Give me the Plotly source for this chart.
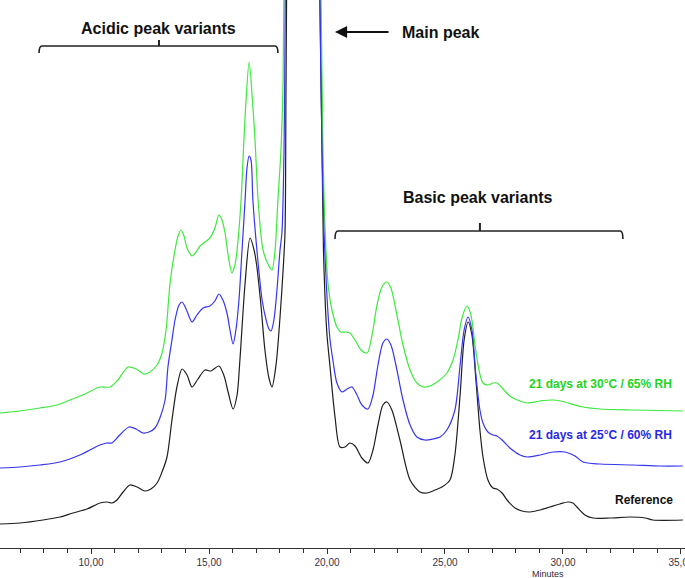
import plotly.graph_objects as go

# Retention time (minutes) and detector signal (mAU, offset traces as drawn)
ref_t = [6.14, 6.99, 7.97, 8.69, 9.24, 9.83, 10.38, 10.68, 10.89, 11.10, 11.36, 11.65, 11.95, 12.29, 12.54,
         12.80, 13.01, 13.22, 13.43, 13.64, 13.86, 14.07, 14.28, 14.53, 14.83, 15.08, 15.42, 15.64, 15.81,
         16.02, 16.19, 16.31, 16.53, 16.74, 16.91, 17.03, 17.20, 17.37, 17.54, 17.67, 17.84, 18.01, 18.14,
         18.22, 18.26, 18.30, 18.60, 18.98, 19.36, 19.60, 19.70, 19.79, 19.85, 19.92, 20.00, 20.13, 20.34,
         20.55, 20.76, 20.97, 21.19, 21.48, 21.74, 21.95, 22.16, 22.37, 22.54, 22.75, 23.09, 23.52, 23.94,
         24.24, 24.58, 24.87, 25.21, 25.42, 25.64, 25.81, 25.98, 26.14, 26.31, 26.48, 26.61, 26.82, 27.03,
         27.20, 27.42, 27.63, 27.97, 28.26, 28.60, 29.03, 29.45, 29.87, 30.21, 30.42, 30.59, 30.93, 31.27,
         31.99, 32.84, 33.48, 33.81, 35.08]
ref_v = [24, 25, 28, 31, 35, 39, 45, 46, 45, 48, 56, 63, 61, 57, 59,
         65, 76, 91, 128, 161, 179, 173, 161, 169, 178, 177, 182, 172, 156,
         139, 153, 188, 265, 310, 298, 281, 243, 198, 170, 161, 183, 231, 278,
         315, 448, 598, 1600, 2400, 1500, 800, 548, 398, 298, 248, 213, 181, 131,
         101, 101, 105, 102, 90, 85, 98, 123, 143, 146, 138, 108, 68, 56,
         55, 58, 61, 68, 93, 153, 208, 226, 213, 168, 118, 91, 68, 60,
         59, 55, 48, 40, 37, 36, 38, 41, 44, 46, 45, 41, 33, 30,
         30, 31, 30, 28, 28]

d25_t = [6.14, 6.99, 7.84, 8.69, 9.53, 10.38, 10.68, 10.89, 11.14, 11.61, 11.91, 12.20, 12.46, 12.71,
         12.92, 13.14, 13.26, 13.43, 13.56, 13.73, 13.86, 14.03, 14.28, 14.49, 14.75, 15.04, 15.25, 15.42,
         15.59, 15.76, 15.89, 16.02, 16.14, 16.27, 16.40, 16.53, 16.61, 16.70, 16.78, 16.86, 17.03, 17.25,
         17.42, 17.54, 17.63, 17.75, 17.88, 18.01, 18.09, 18.18, 18.22, 18.26, 18.55, 18.98, 19.36, 19.60,
         19.70, 19.79, 19.87, 20.00, 20.13, 20.25, 20.42, 20.64, 20.85, 21.06, 21.27, 21.48, 21.74, 21.95,
         22.16, 22.37, 22.54, 22.71, 22.92, 23.22, 23.52, 23.81, 24.15, 24.49, 24.79, 25.08, 25.42, 25.64,
         25.81, 25.98, 26.14, 26.31, 26.48, 26.61, 26.82, 27.03, 27.20, 27.42, 27.75, 28.18, 28.48, 29.03,
         29.58, 30.09, 30.51, 30.85, 31.57, 32.97, 34.11, 35.08]
d25_v = [80, 81, 83, 86, 93, 103, 105, 105, 111, 121, 119, 115, 116, 120,
         130, 148, 181, 208, 228, 243, 246, 239, 226, 233, 240, 242, 247, 254,
         248, 235, 218, 204, 218, 248, 298, 348, 380, 392, 388, 348, 298, 248,
         228, 219, 217, 228, 258, 298, 315, 398, 508, 648, 1600, 2400, 1500, 800,
         548, 398, 318, 251, 208, 188, 165, 156, 159, 161, 153, 143, 139, 153,
         183, 205, 209, 203, 183, 148, 123, 111, 108, 109, 111, 118, 138, 183,
         218, 231, 218, 173, 138, 125, 116, 113, 112, 108, 100, 93, 91, 93,
         96, 96, 92, 86, 84, 83, 82, 82]

d30_t = [6.14, 6.99, 7.84, 8.56, 9.11, 9.75, 10.38, 10.81, 11.14, 11.57, 11.91, 12.25, 12.50, 12.80,
         13.01, 13.18, 13.35, 13.56, 13.69, 13.81, 13.94, 14.07, 14.28, 14.45, 14.62, 14.83, 15.04, 15.25,
         15.42, 15.55, 15.68, 15.81, 15.97, 16.10, 16.19, 16.36, 16.48, 16.57, 16.70, 16.84, 16.95, 17.08,
         17.29, 17.54, 17.67, 17.80, 17.92, 18.05, 18.14, 18.18, 18.50, 18.98, 19.38, 19.62, 19.75, 19.83,
         19.92, 20.04, 20.21, 20.42, 20.59, 20.81, 20.97, 21.19, 21.44, 21.70, 21.91, 22.12, 22.33, 22.54,
         22.71, 22.92, 23.22, 23.52, 23.81, 24.07, 24.36, 24.66, 25.08, 25.34, 25.55, 25.72, 25.93, 26.10,
         26.27, 26.44, 26.61, 26.82, 27.03, 27.20, 27.42, 27.75, 28.18, 28.48, 29.03, 29.58, 30.09, 30.51,
         30.85, 31.57, 32.97, 35.08]
d30_v = [135, 137, 140, 143, 148, 154, 161, 161, 168, 181, 179, 174, 176, 183,
         195, 218, 265, 298, 312, 318, 312, 300, 292, 296, 302, 306, 310, 320,
         333, 328, 315, 293, 275, 283, 298, 348, 408, 448, 486, 448, 408, 348,
         298, 282, 278, 298, 348, 398, 468, 568, 1600, 2400, 1500, 800, 548, 398,
         318, 265, 238, 221, 216, 216, 215, 208, 198, 195, 213, 243, 261, 266,
         260, 238, 203, 178, 165, 161, 162, 166, 175, 188, 208, 230, 242, 233,
         203, 178, 165, 163, 165, 165, 160, 152, 147, 145, 147, 148, 146, 143,
         141, 139, 138, 137]

series_names = ["Reference", "21 days at 25°C / 60% RH", "21 days at 30°C / 65% RH"]
tick_vals = [10, 15, 20, 25, 30, 35]
tick_text = ["10,00", "15,00", "20,00", "25,00", "30,00", "35,00"]

BLACK = "#1e1e1e"
BLUE = "#3535f2"
GREEN = "#3ee83e"
FONT = "Arial, Liberation Sans, sans-serif"
NARROW = "Liberation Sans Narrow, Arial Narrow, Arial, sans-serif"

fig = go.Figure()
for t, v, c, n in [(ref_t, ref_v, BLACK, series_names[0]),
                   (d30_t, d30_v, GREEN, series_names[2]),
                   (d25_t, d25_v, BLUE, series_names[1])]:
    fig.add_trace(go.Scatter(x=t, y=v, mode="lines", name=n,
                             line=dict(color=c, width=1.2, shape="spline", smoothing=0.8)))

# brackets
bracket_style = dict(color="#222222", width=1.6)
fig.add_shape(type="path", xref="x", yref="y", line=bracket_style,
              path="M 7.80,495 Q 7.80,502 7.92,502 L 17.80,502 Q 17.92,502 17.92,495")
fig.add_shape(type="path", xref="x", yref="y", line=dict(color="#222222", width=2),
              path="M 12.88,502 L 12.88,508")
fig.add_shape(type="path", xref="x", yref="y", line=bracket_style,
              path="M 20.34,309 Q 20.34,317 20.46,317 L 32.42,317 Q 32.54,317 32.54,309")
fig.add_shape(type="path", xref="x", yref="y", line=dict(color="#222222", width=2),
              path="M 26.48,317 L 26.48,325")

# arrow to main peak
fig.add_annotation(x=20.34, y=516, ax=22.67, ay=516, xref="x", yref="y", axref="x", ayref="y",
                   text="", showarrow=True, arrowhead=2, arrowsize=1.1, arrowwidth=2.2,
                   arrowcolor="#111111")

big = dict(family=FONT, size=16, color="#111111", weight="bold")
fig.add_annotation(x=12.84, y=520, xref="x", yref="y", text="<b>Acidic peak variants</b>",
                   showarrow=False, font=big)
fig.add_annotation(x=24.79, y=516, xref="x", yref="y", text="<b>Main peak</b>",
                   showarrow=False, font=big)
fig.add_annotation(x=26.40, y=351, xref="x", yref="y", text="<b>Basic peak variants</b>",
                   showarrow=False, font=big)

fig.add_annotation(x=31.57, y=164, xref="x", yref="y", text="<b>" + series_names[2] + "</b>",
                   showarrow=False, font=dict(family=FONT, size=12, color="#22d422"))
fig.add_annotation(x=31.57, y=113, xref="x", yref="y", text="<b>" + series_names[1] + "</b>",
                   showarrow=False, font=dict(family=FONT, size=12, color="#2828e8"))
fig.add_annotation(x=33.43, y=48, xref="x", yref="y", text="<b>" + series_names[0] + "</b>",
                   showarrow=False, font=dict(family=FONT, size=12, color="#111111"))

fig.add_annotation(x=29.36, y=-0.047, xref="x", yref="paper", text="Minutes", showarrow=False,
                   yanchor="middle", font=dict(family=NARROW, size=9, color="#2a2a3a"))

fig.update_layout(
    width=685, height=578,
    margin=dict(l=0, r=0, t=0, b=30, autoexpand=False),
    paper_bgcolor="white", plot_bgcolor="white",
    showlegend=False,
    xaxis=dict(range=[6.144, 35.17], showgrid=False, zeroline=False, automargin=False,
               showline=True, linecolor="#333333", linewidth=1,
               ticks="outside", ticklen=5, tickcolor="#333333", tickwidth=1,
               tickvals=tick_vals, ticktext=tick_text, ticklabeloverflow="allow",
               tickfont=dict(family=NARROW, size=10, color="#33334a"),
               minor=dict(dtick=1, tick0=0, ticks="outside", ticklen=4, tickcolor="#333333")),
    yaxis=dict(range=[0, 548], visible=False, automargin=False),
)

fig.write_html("out.html", config={"displayModeBar": False},
               post_script="document.body.style.margin='0';document.body.style.overflow='hidden';")
